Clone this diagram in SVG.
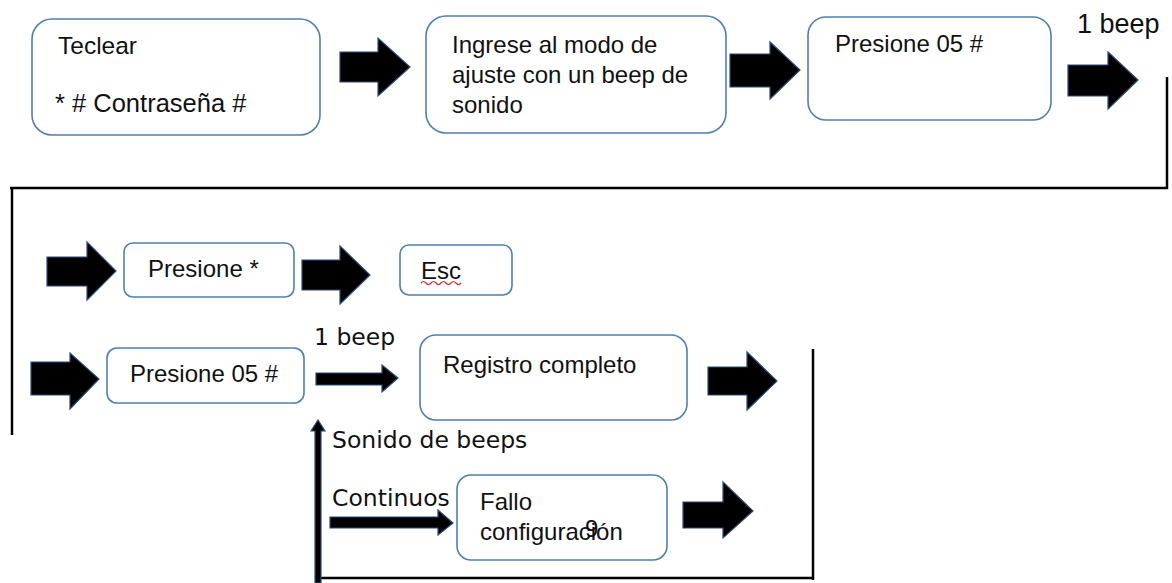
<svg xmlns="http://www.w3.org/2000/svg" width="1172" height="583" viewBox="0 0 1172 583">
<defs>
<style>
.box{fill:#fff;stroke:#4f7fb0;stroke-width:1.6}
.arr{fill:#000;stroke:#2a4a78;stroke-width:1.2;stroke-linejoin:miter}
.ln{fill:none;stroke:#000;stroke-width:2.5}
.t{font-family:"Liberation Sans",Arial,sans-serif;font-size:24px;fill:#111}
.d{font-family:"DejaVu Sans",sans-serif;font-size:23.5px;fill:#111}
</style>
</defs>
<rect width="1172" height="583" fill="#fff"/>
<g id="connectors">
<path class="arr" d="M340,52 H378 V38 L410,67 L378,96 V82 H340 Z"/>
<path class="arr" d="M730,54 H770 V42 L800,70 L770,99 V87 H730 Z"/>
<path class="arr" d="M1068,65 H1108 V52 L1138,80 L1108,109 V96 H1068 Z"/>
<polyline class="ln" points="1167,77 1167,188 10,188"/>
<line class="ln" x1="12" y1="188" x2="12" y2="435"/>
<path class="arr" d="M47,257 H87 V242 L116,271 L87,300 V286 H47 Z"/>
<path class="arr" d="M302,260 H340 V246 L370,275 L340,304 V290 H302 Z"/>
<path class="arr" d="M31,362 H70 V353 L99,379 L70,409 V395 H31 Z"/>
<path class="arr" d="M316,373 H382 V365 L398,378 L382,392 V385 H316 Z"/>
<path class="arr" d="M708,367 H747 V352 L777,381 L747,410 V395 H708 Z"/>
<line class="ln" x1="813" y1="349" x2="813" y2="580"/>
<line class="ln" x1="318" y1="578" x2="814" y2="578"/>
<path class="arr" d="M315,583 V431 H311 L318,420 L325,431 H321 V583 Z"/>
<path class="arr" d="M330,517 H438 V510 L453,523 L438,535 V528 H330 Z"/>
<path class="arr" d="M683,502 H723 V482 L753,511 L723,538 V528 H683 Z"/>
</g>
<g id="n1">
<rect class="box" x="32" y="19" width="288" height="116" rx="20"/>
<text class="t" x="58" y="54" style="font-size:24.5px">Teclear</text>
<text class="t" x="55" y="112" style="font-size:25.5px">* # Contraseña #</text>
</g>
<g id="n2">
<rect class="box" x="426" y="16" width="300" height="117" rx="20"/>
<text class="t" x="452" y="53">Ingrese al modo de</text>
<text class="t" x="452" y="83">ajuste con un beep de</text>
<text class="t" x="452" y="113">sonido</text>
</g>
<g id="n3">
<rect class="box" x="808" y="17" width="243" height="103" rx="18"/>
<text class="t" x="835" y="52">Presione 05 #</text>
</g>
<text class="t" x="1077" y="33" style="font-size:27px">1 beep</text>
<g id="n4">
<rect class="box" x="124" y="243" width="170" height="54" rx="9"/>
<text class="t" x="148" y="277">Presione *</text>
</g>
<g id="n5">
<rect class="box" x="400" y="245" width="112" height="50" rx="9"/>
<text class="t" x="421" y="279">Esc</text>
<path d="M421,283 q2.5,-3 5,0 t5,0 t5,0 t5,0 t5,0 t5,0 t5,0 t5,0" fill="none" stroke="#e02020" stroke-width="1.2"/>
</g>
<g id="n6">
<rect class="box" x="107" y="348" width="197" height="55" rx="10"/>
<text class="t" x="130" y="382">Presione 05 #</text>
</g>
<text class="d" x="314" y="345">1 beep</text>
<g id="n7">
<rect class="box" x="420" y="335" width="267" height="85" rx="16"/>
<text class="t" x="443" y="373">Registro completo</text>
</g>
<text class="d" x="332" y="448">Sonido de beeps</text>
<text class="d" x="332" y="506">Continuos</text>
<g id="n8">
<rect class="box" x="457" y="475" width="210" height="85" rx="14"/>
<text class="t" x="480" y="510">Fallo</text>
<text class="t" x="480" y="540">configuración</text>
<text class="t" x="585" y="537">9</text>
</g>
</svg>
